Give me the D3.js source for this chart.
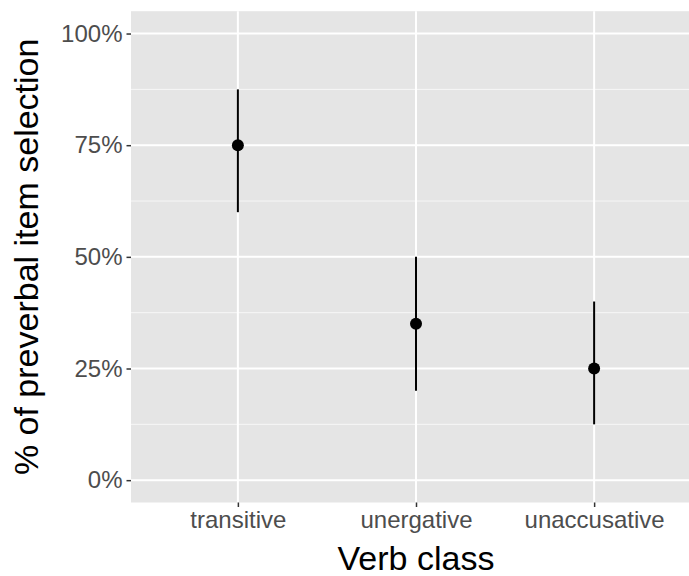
<!DOCTYPE html>
<html>
<head>
<meta charset="utf-8">
<script src="https://cdn.jsdelivr.net/npm/d3@7"></script>
<style>
  body { margin: 0; background: #fff; }
  text { font-family: "Liberation Sans", Arial, sans-serif; }
</style>
</head>
<body>
<div id="chart"></div>
<script>
// data
var classes = ["transitive", "unergative", "unaccusative"];
var means = [0.75, 0.35, 0.25];
var lower = [0.60, 0.20, 0.125];
var upper = [0.875, 0.50, 0.40];
var yTicks = [0, 0.25, 0.5, 0.75, 1];
var yMinor = [0.125, 0.375, 0.625, 0.875];

var W = 689, H = 576;
var panel = { left: 131, right: 701, top: 11.2, bottom: 502.5 };

var svg = d3.select("#chart")
    .append("svg")
    .attr("width", W)
    .attr("height", H);

var x = d3.scalePoint()
    .domain(classes)
    .range([panel.left, panel.right])
    .padding(0.6);

var y = d3.scaleLinear()
    .domain([-0.05, 1.05])
    .range([panel.bottom, panel.top]);

// panel background
svg.append("rect")
    .attr("x", panel.left)
    .attr("y", panel.top)
    .attr("width", panel.right - panel.left)
    .attr("height", panel.bottom - panel.top)
    .style("fill", "#E5E5E5");

// minor grid
svg.append("g")
    .selectAll("line")
    .data(yMinor)
    .enter()
    .append("line")
    .attr("x1", panel.left)
    .attr("x2", panel.right)
    .attr("y1", function (d) { return y(d); })
    .attr("y2", function (d) { return y(d); })
    .style("stroke", "#F7F7F7")
    .style("stroke-width", 1);

// major grid
svg.append("g")
    .selectAll("line")
    .data(yTicks)
    .enter()
    .append("line")
    .attr("x1", panel.left)
    .attr("x2", panel.right)
    .attr("y1", function (d) { return y(d); })
    .attr("y2", function (d) { return y(d); })
    .style("stroke", "#fff")
    .style("stroke-width", 2);

svg.append("g")
    .selectAll("line")
    .data(classes)
    .enter()
    .append("line")
    .attr("x1", function (d) { return x(d); })
    .attr("x2", function (d) { return x(d); })
    .attr("y1", panel.top)
    .attr("y2", panel.bottom)
    .style("stroke", "#fff")
    .style("stroke-width", 2);

// Y axis
var yAxis = svg.append("g")
    .attr("transform", "translate(" + panel.left + ",0)")
    .call(d3.axisLeft(y).tickValues(yTicks).tickSize(4.5).tickPadding(4)
        .tickFormat(function (d) { return Math.round(d * 100) + "%"; }));
yAxis.select(".domain").remove();
yAxis.selectAll(".tick line").style("stroke", "#333").style("stroke-width", 1.5);
yAxis.selectAll(".tick text")
    .style("fill", "#4D4D4D")
    .style("font-size", "24px")
    .style("font-family", "Liberation Sans, Arial, sans-serif");

// X axis
var xAxis = svg.append("g")
    .attr("transform", "translate(0," + panel.bottom + ")")
    .call(d3.axisBottom(x).tickSize(4.5).tickPadding(4));
xAxis.select(".domain").remove();
xAxis.selectAll(".tick line").style("stroke", "#333").style("stroke-width", 1.5);
xAxis.selectAll(".tick text")
    .style("fill", "#4D4D4D")
    .style("font-size", "24px")
    .style("font-family", "Liberation Sans, Arial, sans-serif");

// error bars
svg.append("g")
    .selectAll("line")
    .data(classes)
    .enter()
    .append("line")
    .attr("x1", function (d) { return x(d); })
    .attr("x2", function (d) { return x(d); })
    .attr("y1", function (d, i) { return y(lower[i]); })
    .attr("y2", function (d, i) { return y(upper[i]); })
    .style("stroke", "#000")
    .style("stroke-width", 2);

// points
svg.append("g")
    .selectAll("circle")
    .data(classes)
    .enter()
    .append("circle")
    .attr("cx", function (d) { return x(d); })
    .attr("cy", function (d, i) { return y(means[i]); })
    .attr("r", 6)
    .style("fill", "#000");

// axis titles
svg.append("text")
    .attr("x", 416)
    .attr("y", 570)
    .style("text-anchor", "middle")
    .style("font-size", "34px")
    .style("fill", "#000")
    .text("Verb class");

svg.append("text")
    .attr("transform", "rotate(-90)")
    .attr("x", -(panel.top + panel.bottom) / 2)
    .attr("y", 38)
    .style("text-anchor", "middle")
    .style("font-size", "34px")
    .style("fill", "#000")
    .text("% of preverbal item selection");
</script>
</body>
</html>
